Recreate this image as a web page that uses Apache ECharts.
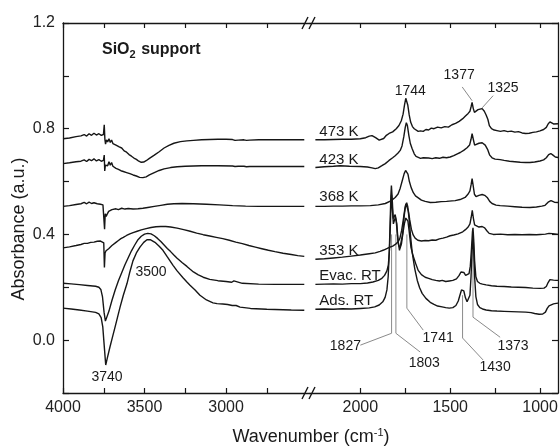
<!DOCTYPE html>
<html><head><meta charset="utf-8">
<script src="https://cdn.jsdelivr.net/npm/echarts@6/dist/echarts.min.js"></script>
<style>html,body{margin:0;padding:0;background:#fff}#c{width:560px;height:446px}</style>
</head><body><div id="c"></div>
<script>
// ---- axis ticks / labels ----
const yTicks = [-0.2, 0, 0.2, 0.4, 0.6, 0.8, 1.0, 1.2];
const yLabels = ['0.0', '0.4', '0.8', '1.2'];
const xTicksLeft = [4000, 3750, 3500, 3250, 3000, 2750];
const xLabelsLeft = [4000, 3500, 3000];
const xTicksRight = [2000, 1750, 1500, 1250, 1000];
const xLabelsRight = [2000, 1500, 1000];
const seriesNames = ['473 K', '423 K', '368 K', '353 K', 'Evac. RT', 'Ads. RT'];

// ---- spectra, high-wavenumber segment (4000-2520 cm-1) ----
const k473L = [[4000,0.762],[3960,0.765],[3920,0.770],[3890,0.773],[3870,0.778],[3855,0.772],[3840,0.781],[3825,0.775],[3810,0.783],[3795,0.776],[3780,0.781],[3765,0.775],[3752,0.778],[3747,0.815],[3743,0.760],[3739,0.742],[3733,0.758],[3726,0.750],[3718,0.762],[3710,0.748],[3702,0.757],[3694,0.744],[3685,0.750],[3675,0.738],[3665,0.741],[3655,0.731],[3640,0.727],[3625,0.716],[3610,0.711],[3595,0.702],[3580,0.696],[3565,0.689],[3550,0.684],[3535,0.677],[3520,0.673],[3505,0.674],[3490,0.679],[3470,0.688],[3440,0.700],[3410,0.713],[3380,0.727],[3350,0.737],[3320,0.745],[3280,0.751],[3240,0.754],[3200,0.756],[3150,0.758],[3100,0.759],[3050,0.760],[3000,0.760],[2960,0.759],[2945,0.756],[2935,0.752],[2925,0.757],[2890,0.758],[2875,0.756],[2865,0.751],[2855,0.757],[2800,0.758],[2700,0.758],[2600,0.758],[2520,0.758]];
const k423L = [[4000,0.668],[3960,0.671],[3920,0.675],[3890,0.677],[3870,0.682],[3855,0.676],[3840,0.684],[3825,0.679],[3810,0.686],[3795,0.678],[3780,0.683],[3765,0.677],[3752,0.680],[3747,0.700],[3744,0.640],[3740,0.662],[3733,0.668],[3726,0.660],[3718,0.675],[3710,0.662],[3702,0.672],[3694,0.658],[3685,0.663],[3675,0.650],[3660,0.646],[3645,0.641],[3630,0.638],[3610,0.634],[3590,0.630],[3570,0.625],[3550,0.621],[3530,0.616],[3510,0.615],[3490,0.618],[3470,0.625],[3440,0.634],[3410,0.642],[3380,0.648],[3340,0.653],[3300,0.656],[3250,0.658],[3150,0.660],[3050,0.660],[2960,0.659],[2945,0.657],[2935,0.654],[2925,0.658],[2890,0.658],[2875,0.656],[2865,0.653],[2855,0.657],[2700,0.657],[2520,0.657]];
const k368L = [[4000,0.506],[3960,0.509],[3920,0.513],[3890,0.516],[3870,0.521],[3855,0.516],[3840,0.522],[3825,0.517],[3810,0.520],[3790,0.516],[3770,0.514],[3755,0.512],[3749,0.508],[3745,0.420],[3741,0.478],[3735,0.468],[3728,0.478],[3720,0.487],[3710,0.485],[3700,0.494],[3690,0.490],[3675,0.497],[3660,0.494],[3640,0.499],[3620,0.496],[3600,0.498],[3570,0.496],[3540,0.497],[3510,0.499],[3480,0.502],[3440,0.506],[3400,0.510],[3360,0.514],[3320,0.516],[3270,0.517],[3200,0.516],[3120,0.514],[3040,0.512],[2960,0.509],[2880,0.507],[2800,0.506],[2700,0.506],[2520,0.506]];
const k353L = [[4000,0.349],[3960,0.353],[3920,0.358],[3890,0.362],[3870,0.366],[3850,0.366],[3830,0.370],[3810,0.371],[3790,0.374],[3770,0.375],[3758,0.374],[3750,0.368],[3746,0.275],[3742,0.330],[3736,0.338],[3728,0.336],[3720,0.346],[3710,0.352],[3700,0.358],[3690,0.362],[3675,0.370],[3660,0.377],[3645,0.384],[3630,0.389],[3610,0.396],[3590,0.402],[3570,0.407],[3545,0.412],[3520,0.417],[3490,0.422],[3460,0.426],[3430,0.429],[3400,0.430],[3370,0.430],[3340,0.428],[3300,0.424],[3260,0.418],[3220,0.412],[3180,0.405],[3140,0.399],[3100,0.394],[3060,0.389],[3020,0.384],[2980,0.378],[2940,0.371],[2900,0.365],[2860,0.358],[2820,0.352],[2780,0.346],[2740,0.340],[2700,0.335],[2650,0.329],[2600,0.324],[2560,0.320],[2520,0.317]];
const evacL = [[4000,0.215],[3950,0.213],[3900,0.210],[3850,0.207],[3800,0.204],[3780,0.200],[3768,0.192],[3758,0.165],[3748,0.105],[3740,0.072],[3732,0.076],[3718,0.110],[3700,0.150],[3680,0.190],[3660,0.225],[3640,0.255],[3620,0.285],[3600,0.312],[3580,0.338],[3560,0.360],[3540,0.380],[3520,0.393],[3500,0.401],[3480,0.404],[3460,0.402],[3440,0.395],[3420,0.385],[3400,0.373],[3380,0.360],[3360,0.347],[3340,0.335],[3320,0.322],[3300,0.310],[3270,0.294],[3240,0.279],[3220,0.268],[3200,0.258],[3170,0.247],[3140,0.238],[3100,0.230],[3050,0.225],[3000,0.222],[2965,0.219],[2952,0.224],[2940,0.219],[2900,0.215],[2800,0.212],[2700,0.211],[2520,0.211]];
const adsL = [[4000,0.121],[3950,0.118],[3900,0.114],[3850,0.110],[3800,0.105],[3780,0.099],[3766,0.085],[3756,0.050],[3746,-0.030],[3738,-0.094],[3729,-0.070],[3712,-0.026],[3695,0.015],[3680,0.051],[3665,0.088],[3650,0.125],[3630,0.170],[3607,0.215],[3590,0.258],[3571,0.300],[3550,0.330],[3528,0.352],[3505,0.370],[3485,0.380],[3465,0.380],[3436,0.370],[3410,0.355],[3387,0.340],[3360,0.315],[3325,0.283],[3300,0.262],[3264,0.236],[3240,0.220],[3221,0.208],[3190,0.190],[3160,0.170],[3120,0.152],[3080,0.141],[3055,0.138],[3045,0.141],[3020,0.137],[2990,0.135],[2962,0.131],[2952,0.137],[2938,0.131],[2914,0.125],[2850,0.120],[2750,0.117],[2600,0.114],[2520,0.113]];

// ---- spectra, low-wavenumber segment (2250-900 cm-1) ----
const k473R = [[2250,0.758],[2200,0.758],[2150,0.759],[2100,0.760],[2050,0.760],[2000,0.762],[1970,0.766],[1950,0.772],[1935,0.774],[1915,0.766],[1895,0.757],[1885,0.755],[1870,0.763],[1855,0.775],[1840,0.782],[1820,0.788],[1800,0.800],[1785,0.812],[1772,0.830],[1762,0.855],[1754,0.890],[1747,0.915],[1742,0.915],[1736,0.890],[1728,0.852],[1720,0.825],[1710,0.808],[1700,0.800],[1690,0.793],[1678,0.790],[1665,0.792],[1650,0.790],[1635,0.797],[1620,0.795],[1605,0.802],[1590,0.800],[1570,0.806],[1550,0.803],[1530,0.808],[1510,0.806],[1490,0.815],[1470,0.820],[1450,0.828],[1430,0.838],[1415,0.848],[1400,0.858],[1390,0.866],[1383,0.885],[1378,0.900],[1372,0.878],[1365,0.862],[1355,0.866],[1345,0.872],[1335,0.875],[1322,0.876],[1310,0.866],[1300,0.852],[1290,0.835],[1282,0.812],[1270,0.800],[1255,0.795],[1240,0.793],[1220,0.790],[1200,0.793],[1180,0.789],[1160,0.791],[1140,0.787],[1120,0.789],[1100,0.784],[1080,0.782],[1060,0.783],[1040,0.786],[1020,0.788],[1000,0.792],[980,0.797],[965,0.805],[955,0.818],[945,0.826],[935,0.825],[925,0.818],[915,0.820],[900,0.819]];
const k423R = [[2250,0.653],[2200,0.656],[2150,0.658],[2111,0.660],[2060,0.658],[2000,0.657],[1960,0.655],[1935,0.652],[1917,0.649],[1900,0.652],[1880,0.660],[1861,0.668],[1840,0.680],[1820,0.690],[1806,0.698],[1790,0.708],[1778,0.718],[1768,0.735],[1758,0.770],[1750,0.805],[1744,0.823],[1738,0.812],[1730,0.775],[1722,0.745],[1712,0.725],[1700,0.705],[1690,0.695],[1680,0.690],[1665,0.688],[1650,0.690],[1639,0.686],[1620,0.689],[1600,0.687],[1580,0.690],[1560,0.688],[1540,0.692],[1520,0.690],[1500,0.693],[1480,0.698],[1460,0.705],[1444,0.710],[1425,0.718],[1406,0.728],[1392,0.738],[1384,0.760],[1378,0.781],[1372,0.762],[1364,0.738],[1355,0.740],[1340,0.745],[1322,0.747],[1305,0.738],[1292,0.722],[1280,0.700],[1267,0.690],[1250,0.685],[1222,0.683],[1200,0.680],[1170,0.677],[1140,0.675],[1110,0.673],[1080,0.672],[1056,0.672],[1030,0.674],[1000,0.678],[980,0.682],[965,0.690],[952,0.702],[940,0.706],[928,0.700],[915,0.693],[900,0.691]];
const k368R = [[2250,0.506],[2200,0.506],[2150,0.507],[2100,0.507],[2050,0.508],[2000,0.508],[1944,0.509],[1900,0.512],[1861,0.517],[1830,0.527],[1806,0.540],[1790,0.553],[1778,0.575],[1766,0.605],[1756,0.630],[1748,0.642],[1742,0.642],[1735,0.628],[1727,0.600],[1717,0.577],[1705,0.558],[1693,0.546],[1683,0.540],[1660,0.530],[1639,0.525],[1611,0.521],[1580,0.522],[1550,0.524],[1520,0.525],[1490,0.527],[1472,0.528],[1445,0.532],[1417,0.540],[1400,0.553],[1390,0.565],[1383,0.590],[1378,0.611],[1372,0.585],[1365,0.552],[1356,0.543],[1340,0.548],[1322,0.551],[1308,0.548],[1294,0.540],[1280,0.525],[1267,0.517],[1245,0.511],[1222,0.509],[1180,0.507],[1140,0.505],[1100,0.503],[1056,0.502],[1020,0.504],[990,0.507],[972,0.510],[955,0.522],[939,0.528],[920,0.522],[900,0.521]];
const k353R = [[2250,0.306],[2200,0.308],[2150,0.311],[2100,0.314],[2050,0.318],[2000,0.322],[1950,0.327],[1917,0.330],[1890,0.336],[1870,0.341],[1850,0.347],[1835,0.352],[1820,0.356],[1805,0.362],[1790,0.372],[1780,0.385],[1770,0.415],[1760,0.460],[1752,0.498],[1746,0.515],[1740,0.512],[1733,0.490],[1725,0.455],[1716,0.420],[1706,0.398],[1695,0.386],[1680,0.378],[1660,0.375],[1639,0.377],[1620,0.376],[1600,0.379],[1580,0.378],[1560,0.383],[1540,0.386],[1520,0.390],[1500,0.395],[1480,0.398],[1456,0.402],[1430,0.410],[1415,0.418],[1400,0.428],[1390,0.440],[1383,0.465],[1377,0.491],[1371,0.462],[1364,0.436],[1356,0.432],[1340,0.428],[1322,0.430],[1308,0.425],[1296,0.414],[1283,0.404],[1260,0.400],[1220,0.401],[1180,0.399],[1140,0.400],[1100,0.399],[1060,0.400],[1020,0.399],[1000,0.400],[970,0.401],[950,0.404],[930,0.403],[900,0.400]];
const evacR = [[2250,0.211],[2200,0.212],[2150,0.213],[2100,0.212],[2050,0.214],[2000,0.214],[1960,0.216],[1930,0.220],[1900,0.226],[1880,0.234],[1865,0.245],[1852,0.262],[1844,0.285],[1838,0.340],[1833,0.430],[1829,0.520],[1826,0.550],[1822,0.500],[1816,0.440],[1810,0.445],[1805,0.465],[1800,0.450],[1794,0.400],[1787,0.360],[1779,0.348],[1771,0.365],[1763,0.405],[1755,0.440],[1747,0.462],[1741,0.465],[1735,0.450],[1727,0.405],[1718,0.350],[1706,0.318],[1692,0.290],[1678,0.264],[1660,0.248],[1639,0.238],[1620,0.234],[1600,0.229],[1580,0.226],[1560,0.224],[1544,0.226],[1525,0.222],[1505,0.224],[1485,0.226],[1465,0.232],[1450,0.245],[1440,0.258],[1432,0.264],[1424,0.256],[1414,0.245],[1404,0.245],[1395,0.252],[1388,0.280],[1382,0.340],[1376,0.410],[1373,0.425],[1369,0.380],[1364,0.300],[1357,0.240],[1348,0.222],[1335,0.215],[1320,0.212],[1300,0.209],[1270,0.206],[1240,0.204],[1200,0.203],[1160,0.201],[1120,0.200],[1080,0.199],[1040,0.197],[1000,0.196],[978,0.197],[965,0.203],[955,0.218],[945,0.229],[935,0.230],[925,0.227],[910,0.226],[900,0.226]];
const adsR = [[2250,0.117],[2200,0.118],[2150,0.117],[2100,0.119],[2050,0.118],[2000,0.120],[1950,0.122],[1920,0.126],[1895,0.133],[1875,0.145],[1862,0.162],[1852,0.190],[1845,0.240],[1839,0.330],[1834,0.450],[1830,0.545],[1827,0.585],[1823,0.540],[1817,0.460],[1811,0.455],[1806,0.475],[1802,0.478],[1797,0.440],[1790,0.375],[1782,0.340],[1774,0.345],[1765,0.400],[1756,0.470],[1748,0.510],[1742,0.520],[1736,0.505],[1728,0.455],[1720,0.390],[1711,0.330],[1697,0.270],[1683,0.226],[1670,0.198],[1656,0.177],[1635,0.158],[1611,0.143],[1590,0.135],[1570,0.129],[1545,0.126],[1525,0.123],[1505,0.121],[1485,0.123],[1468,0.131],[1455,0.148],[1445,0.172],[1437,0.190],[1431,0.196],[1424,0.186],[1415,0.160],[1406,0.145],[1397,0.146],[1390,0.170],[1384,0.240],[1378,0.340],[1373,0.400],[1369,0.340],[1364,0.240],[1357,0.165],[1348,0.135],[1335,0.123],[1320,0.118],[1300,0.114],[1270,0.111],[1240,0.110],[1200,0.109],[1160,0.108],[1120,0.107],[1080,0.106],[1050,0.104],[1030,0.101],[1005,0.098],[985,0.099],[970,0.106],[960,0.120],[950,0.130],[940,0.133],[925,0.137],[910,0.139],[900,0.140]];

// ---- peak annotations (leader lines in data units) ----
const lead1827 = [[1826,0.40],[1826,0.026],[2000,-0.019]];
const lead1803 = [[1802,0.40],[1802,0.026],[1667,-0.045]];
const lead1741 = [[1741,0.40],[1741,0.121],[1650,0.038]];
const lead1430 = [[1431,0.17],[1431,0.008],[1317,-0.075]];
const lead1373 = [[1373,0.35],[1373,0.087],[1222,0.011]];
const lead1377 = [[1378,0.906],[1433,0.958]];
const lead1325 = [[1322,0.879],[1261,0.925]];
const peakLabelsRight = [['1744',1722,0.943],['1377',1450,1.004],['1325',1206,0.955],['1827',2083,-0.023],['1803',1644,-0.087],['1741',1567,0.008],['1430',1250,-0.102],['1373',1150,-0.023]];
const peakLabelsLeft = [['3740',3730,-0.140],['3500',3460,0.257]];
const seriesLabelPos = [[2228,0.789],[2228,0.683],[2228,0.543],[2228,0.336],[2228,0.242],[2228,0.147]];

const FONT = '"Liberation Sans", Arial, Helvetica, sans-serif';
const INK = '#161616';
const chart = echarts.init(document.getElementById('c'), null, {renderer: 'canvas'});

function xAx(grid, pos, min, max, ticks, labels) {
  return {
    gridIndex: grid, type: 'value', position: pos, min: min, max: max, inverse: true,
    axisLine: {show: true, onZero: false, lineStyle: {color: INK, width: 1.3}},
    axisTick: {show: true, inside: true, length: 5, customValues: ticks, lineStyle: {color: INK, width: 1.2}},
    axisLabel: pos === 'bottom' ? {show: true, customValues: labels, fontSize: 16, fontFamily: FONT, color: '#222', margin: 7,
      formatter: function (v) { return String(Math.round(v)); }} : {show: false},
    splitLine: {show: false}
  };
}
function yAx(grid, pos) {
  return {
    gridIndex: grid, type: 'value', position: pos, min: -0.2, max: 1.2, interval: 0.2,
    axisLine: {show: true, onZero: false, lineStyle: {color: INK, width: 1.3}},
    axisTick: {show: true, inside: true, length: 6, lineStyle: {color: INK, width: 1.2}},
    axisLabel: pos === 'left' ? {show: true, fontSize: 16, fontFamily: FONT, color: '#222', margin: 8,
      formatter: function (v) { const t = v.toFixed(1); return yLabels.indexOf(t) >= 0 ? t : ''; }} : {show: false},
    splitLine: {show: false}
  };
}
function spec(data, grid) {
  return {type: 'line', xAxisIndex: grid * 2, yAxisIndex: grid, data: data, showSymbol: false, symbol: 'none',
    lineStyle: {color: INK, width: 1.4}, silent: true, z: 3, animation: false, clip: true};
}
function lead(data) {
  return {type: 'line', xAxisIndex: 2, yAxisIndex: 1, data: data, showSymbol: false, symbol: 'none',
    lineStyle: {color: '#8a8a8a', width: 1}, silent: true, z: 2, animation: false};
}

chart.setOption({
  animation: false,
  backgroundColor: '#fff',
  grid: [{left: 63, top: 23, width: 247, height: 370, outerBoundsMode: 'none', containLabel: false},
         {left: 310, top: 23, width: 248, height: 370, outerBoundsMode: 'none', containLabel: false}],
  xAxis: [xAx(0, 'bottom', 2485, 4000, xTicksLeft, xLabelsLeft), xAx(0, 'top', 2485, 4000, xTicksLeft, []),
          xAx(1, 'bottom', 900, 2280, xTicksRight, xLabelsRight), xAx(1, 'top', 900, 2280, xTicksRight, [])],
  yAxis: [yAx(0, 'left'), yAx(1, 'right')],
  series: [
    lead(lead1827), lead(lead1803), lead(lead1741), lead(lead1430), lead(lead1373), lead(lead1377), lead(lead1325),
    spec(k473L, 0), spec(k423L, 0), spec(k368L, 0), spec(k353L, 0), spec(evacL, 0), spec(adsL, 0),
    spec(k473R, 1), spec(k423R, 1), spec(k368R, 1), spec(k353R, 1), spec(evacR, 1), spec(adsR, 1)
  ]
});

function P(g, x, y) { return chart.convertToPixel({gridIndex: g}, [x, y]); }
function txt(p, text, size, align) {
  return {type: 'text', x: p[0], y: p[1], silent: true, z: 10,
    style: {text: text, font: size + 'px ' + FONT, fill: '#1a1a1a', align: align, verticalAlign: 'middle',
      textAlign: align, textVerticalAlign: 'middle'}};
}
const g = [];
peakLabelsRight.forEach(function (a) { g.push(txt(P(1, a[1], a[2]), a[0], 14, 'center')); });
peakLabelsLeft.forEach(function (a) { g.push(txt(P(0, a[1], a[2]), a[0], 14, 'center')); });
seriesNames.forEach(function (n, i) { g.push(txt(P(1, seriesLabelPos[i][0], seriesLabelPos[i][1]), n, 15, 'left')); });
g.push({type: 'text', x: 102, y: 50, silent: true, z: 10, style: {
  text: '{a|SiO}{s|2}{a| support}', align: 'left', verticalAlign: 'middle', textAlign: 'left', textVerticalAlign: 'middle',
  rich: {a: {fontWeight: 'bold', fontSize: 16, fontFamily: FONT, color: '#1a1a1a', fill: '#1a1a1a'},
         s: {fontWeight: 'bold', fontSize: 11, fontFamily: FONT, color: '#1a1a1a', fill: '#1a1a1a', padding: [9, 1, 0, 0]}}}});
g.push({type: 'text', x: 311, y: 437, silent: true, z: 10, style: {
  text: '{a|Wavenumber (cm}{s|-1}{a|)}', align: 'center', verticalAlign: 'middle', textAlign: 'center', textVerticalAlign: 'middle',
  rich: {a: {fontSize: 18, fontFamily: FONT, color: '#1a1a1a', fill: '#1a1a1a'},
         s: {fontSize: 11, fontFamily: FONT, color: '#1a1a1a', fill: '#1a1a1a', padding: [0, 0, 9, 0]}}}});
g.push({type: 'text', x: 19, y: 229, rotation: Math.PI / 2, silent: true, z: 10, style: {
  text: 'Absorbance (a.u.)', font: '18px ' + FONT, fill: '#1a1a1a', align: 'center', verticalAlign: 'middle',
  textAlign: 'center', textVerticalAlign: 'middle'}});
[23, 393].forEach(function (y) {
  g.push({type: 'line', silent: true, z: 11, shape: {x1: 302, y1: y + 6, x2: 308, y2: y - 6}, style: {stroke: INK, lineWidth: 1.4}});
  g.push({type: 'line', silent: true, z: 11, shape: {x1: 309, y1: y + 6, x2: 315, y2: y - 6}, style: {stroke: INK, lineWidth: 1.4}});
});
chart.setOption({graphic: g});
</script>
</body></html>
